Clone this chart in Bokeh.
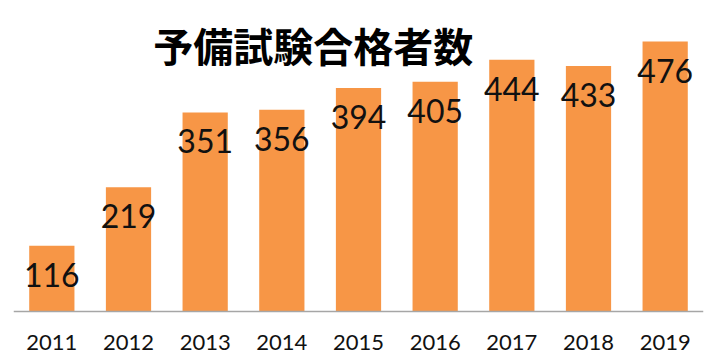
from bokeh.plotting import figure
from bokeh.models import ColumnDataSource, Label, Range1d, Span
from bokeh.core.properties import value
from bokeh.embed import file_html
from bokeh.resources import INLINE

years = ["2011", "2012", "2013", "2014", "2015", "2016", "2017", "2018", "2019"]
passers = [116, 219, 351, 356, 394, 405, 444, 433, 476]
title_text = "予備試験合格者数"

src = ColumnDataSource(dict(x=years, y=passers, t=[str(v) for v in passers],
                            base=[0] * len(years)))

p = figure(x_range=years, y_range=Range1d(-86.4, 548.5), width=720, height=360,
           output_backend="svg", toolbar_location=None, title=None,
           min_border_left=13, min_border_right=17, min_border_top=0, min_border_bottom=0)
p.outline_line_color = None
p.grid.grid_line_color = None
p.yaxis.visible = False
p.xaxis.visible = False
p.x_range.range_padding = 0

p.vbar(x="x", top="y", width=0.59, source=src, color="#F79646", line_color=None)
p.text(x="x", y="y", text="t", source=src, text_align="center", text_baseline="middle",
       y_offset=29, text_font=value("Lato"), text_font_size="32px", text_color="#111111")

# category axis: baseline and year labels
p.add_layout(Span(location=0, dimension="width", line_color="#A6A6A6", line_width=1.5))
p.text(x="x", y="base", text="x", source=src, text_align="center", text_baseline="middle",
       y_offset=31, text_font=value("Lato"), text_font_size="22px", text_color="#111111")

p.add_layout(Label(x=3.91, y=470.9, text=title_text, text_align="center", text_baseline="middle",
                   text_font="Noto Sans CJK JP", text_font_style="bold", text_font_size="40px",
                   text_color="#000000"))

open("out.html", "w").write(file_html(p, INLINE))
